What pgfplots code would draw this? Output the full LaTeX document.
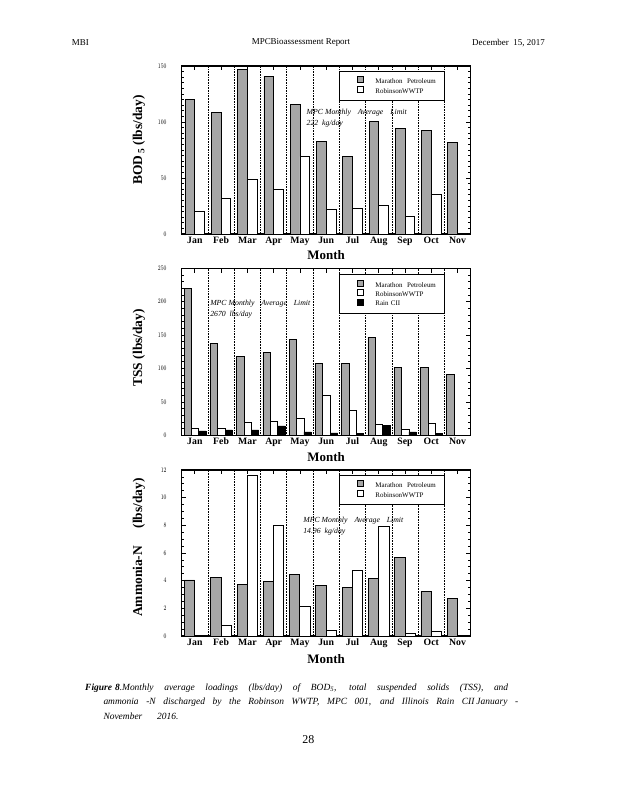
\documentclass[border=0pt]{standalone}
\usepackage{fontspec}
\setmainfont{Liberation Serif}
\setsansfont{Liberation Sans}
\usepackage{graphicx}
\usepackage{pgfplots}
\pgfplotsset{compat=1.18}
\definecolor{bargray}{RGB}{166,166,166}
\tikzset{annot/.style={anchor=west, inner sep=0pt, font=\itshape\fontsize{7.8}{8}\selectfont}}
\pgfplotsset{
  monthaxis/.style={
    scale only axis, width=289bp,
    xmin=0.5, xmax=11.5, ymin=0,
    xtick={1,...,11},
    xticklabels={Jan,Feb,Mar,Apr,May,Jun,Jul,Aug,Sep,Oct,Nov},
    minor xtick={1.5,2.5,...,10.5},
    xtick pos=right, xticklabel pos=left,
    xminorgrids=true,
    minor x grid style={black, line width=0.6bp, densely dotted},
    axis line style={line width=1.1bp},
    tick style={black, line width=0.7bp},
    major tick length=4.5bp, minor tick length=2.5bp,
    tick align=inside,
    ytick pos=both, yticklabel pos=left,
    xticklabel style={font=\bfseries\fontsize{9.8}{10}\selectfont, anchor=base, yshift=-9.5bp, inner sep=0pt},
    yticklabel style={anchor=east, inner sep=0pt, xshift=-15bp},
    yticklabel={\scalebox{0.72}[1]{\sffamily\fontsize{6.8}{7}\selectfont\pgfmathprintnumber{\tick}}},
    xlabel={Month},
    xlabel style={font=\bfseries\fontsize{13}{14}\selectfont, anchor=center},
    ylabel style={font=\bfseries\fontsize{13.5}{14}\selectfont, anchor=center},
    legend cell align=left,
  },
  mylegend/.style={legend style={at={(axis cs:6.5,#1)}, anchor=north west, draw=black, line width=0.9bp, fill=white,
    inner xsep=7bp, inner ysep=4.8bp, font=\fontsize{7}{8}\selectfont, row sep=0pt,
    nodes={inner sep=0pt, text width=62bp, minimum height=8.3bp}}},
  sqlegend/.style={legend image code/.code={\path (0bp,0bp) (28bp,0bp); \draw[##1, line width=0.7bp] (10bp,-0.8bp) rectangle (16bp,5.2bp);}},
  grbar/.style={ybar, fill=bargray, draw=black, line width=0.7bp, sqlegend},
  whbar/.style={ybar, fill=white, draw=black, line width=0.7bp, sqlegend},
  bkbar/.style={ybar, fill=black, draw=black, line width=0.7bp, sqlegend},
}
\begin{document}
\begin{tikzpicture}
\useasboundingbox (0,0) rectangle (618bp,800bp);
% header
\node[anchor=west, inner sep=0pt, font=\fontsize{9}{10}\selectfont] at (71.7bp,757.3bp) {MBI};
\node[anchor=center, inner sep=0pt, font=\fontsize{9}{10}\selectfont] at (301bp,757.3bp) {MPCBioassessment Report};
\node[anchor=east, inner sep=0pt, font=\fontsize{9}{10}\selectfont] at (545bp,757.3bp) {December\ \ 15, 2017};

% ---------- BOD5 ----------
\begin{axis}[monthaxis, height=168bp, at={(181.7bp,566bp)}, anchor=south west,
  ymax=150, ytick={0,50,100,150}, minor y tick num=9,
  xlabel style={at={(rel axis cs:0.5,-0.125)}},
  ylabel={BOD\textsubscript{\,5}\ (lbs/day)},
  ylabel style={at={(rel axis cs:-0.1478,0.56)}},
  mylegend=145.5]
\addplot[grbar, bar width=0.37, bar shift=-0.185] coordinates {
 (1,120) (2,108.6) (3,147) (4,140.8) (5,115.8) (6,82.7) (7,69.3) (8,100.6) (9,94.3) (10,92.3) (11,81.8)};
\addlegendentry{Marathon\ \ Petroleum}
\addplot[whbar, bar width=0.37, bar shift=0.185] coordinates {
 (1,20.2) (2,31.8) (3,48.8) (4,39.9) (5,69.3) (6,22) (7,22.9) (8,25.6) (9,15.8) (10,35.4)};
\addlegendentry{RobinsonWWTP}
\node[annot] at (axis cs:5.25,108.7) {\makebox[100bp][s]{MPC\kern2bp Monthly Average Limit}};
\node[annot] at (axis cs:5.25,98.2) {222\ \ kg/day};
\end{axis}

% ---------- TSS ----------
\begin{axis}[monthaxis, height=167bp, at={(181.7bp,364.7bp)}, anchor=south west,
  ymax=250, ytick={0,50,...,250}, minor y tick num=4,
  xlabel style={at={(rel axis cs:0.5,-0.132)}},
  ylabel={TSS (lbs/day)},
  ylabel style={at={(rel axis cs:-0.1478,0.524)}},
  mylegend=241.5,
  legend style={nodes={minimum height=7.6bp}, inner ysep=5.4bp}]
\addplot[grbar, bar width=0.28, bar shift=-0.27] coordinates {
 (1,220) (2,137.7) (3,118.3) (4,124.3) (5,143.7) (6,107.8) (7,107.8) (8,146.7) (9,101.8) (10,101.8) (11,91.3)};
\addlegendentry{Marathon\ \ Petroleum}
\addplot[whbar, bar width=0.28, bar shift=0.01] coordinates {
 (1,10.5) (2,10.5) (3,19.5) (4,21) (5,25.4) (6,59.9) (7,37.4) (8,16.5) (9,9) (10,18)};
\addlegendentry{RobinsonWWTP}
\addplot[bkbar, bar width=0.28, bar shift=0.29] coordinates {
 (1,6.5) (2,8) (3,8) (4,14) (5,5) (6,3.5) (7,3) (8,15) (9,5) (10,3)};
\addlegendentry{Rain CII}
\node[annot] at (axis cs:1.58,197.6) {\makebox[100bp][s]{MPC\kern2bp Monthly Average Limit}};
\node[annot] at (axis cs:1.58,181.1) {2670\ \ lbs/day};
\end{axis}

% ---------- Ammonia ----------
\begin{axis}[monthaxis, height=166bp, at={(181.7bp,164bp)}, anchor=south west,
  ymax=12, ytick={0,2,...,12}, minor y tick num=3,
  xlabel style={at={(rel axis cs:0.5,-0.139)}},
  ylabel={Ammonia-N\hspace{1.3em}(lbs/day)},
  ylabel style={at={(rel axis cs:-0.1478,0.533)}},
  mylegend=11.64]
\addplot[grbar, bar width=0.39, bar shift=-0.2] coordinates {
 (1,4.05) (2,4.24) (3,3.73) (4,3.95) (5,4.46) (6,3.66) (7,3.52) (8,4.19) (9,5.69) (10,3.23) (11,2.72)};
\addlegendentry{Marathon\ \ Petroleum}
\addplot[whbar, bar width=0.39, bar shift=0.19] coordinates {
 (1,0.07) (2,0.77) (3,11.61) (4,8.0) (5,2.14) (6,0.41) (7,4.75) (8,7.93) (9,0.19) (10,0.34)};
\addlegendentry{RobinsonWWTP}
\node[annot] at (axis cs:5.12,8.33) {\makebox[100bp][s]{MPC\kern2bp Monthly Average Limit}};
\node[annot] at (axis cs:5.12,7.54) {14.96\ \ kg/day};
\end{axis}

% caption
\node[anchor=west, inner sep=0pt, font=\itshape\fontsize{9.5}{11}\selectfont] at (85bp,111.7bp)
  {\makebox[423bp][s]{\textbf{Figure\kern3bp 8}.Monthly average loadings (lbs/day) of BOD\textsubscript{5}, total suspended solids (TSS), and}};
\node[anchor=west, inner sep=0pt, font=\itshape\fontsize{9.5}{11}\selectfont] at (103.3bp,97.3bp)
  {\makebox[414.7bp][s]{ammonia -N discharged by the Robinson WWTP, MPC 001, and Illinois Rain CII\kern2bp January -}};
\node[anchor=west, inner sep=0pt, font=\itshape\fontsize{9.5}{11}\selectfont] at (103.3bp,84bp)
  {\makebox[75bp][s]{November 2016.}};
\node[anchor=center, inner sep=0pt, font=\fontsize{12}{13}\selectfont] at (308.3bp,60bp) {28};
\end{tikzpicture}
\end{document}
